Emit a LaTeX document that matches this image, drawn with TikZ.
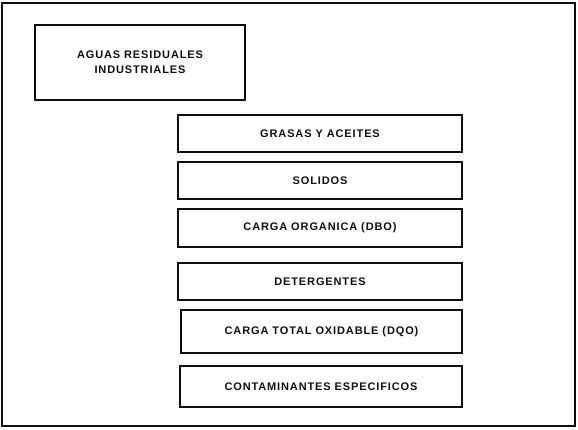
\documentclass[tikz,border=0pt]{standalone}
\usepackage{fontspec}
\setmainfont{Liberation Sans}[LetterSpace=8]
\usepackage{tikz}
\usetikzlibrary{positioning}
\definecolor{arq@ink}{RGB}{15,15,15}
\tikzset{
  arq/.style={
    x=1pt, y=-1pt,
    line width=1.2pt,
    every node/.style={font=\fontsize{11}{15}\selectfont\bfseries}
  },
  sourcebox/.style={              % origin of the wastewater
    draw=arq@ink, line width=1.2pt,
    inner sep=0pt,
    align=center,
    text=arq@ink,
    minimum width=210pt,
    minimum height=75pt
  },
  paramcard/.style={              % one pollutant parameter
    draw=arq@ink, line width=1.2pt,
    inner sep=0pt,
    align=center,
    text=arq@ink,
    minimum width=284pt,
    minimum height=37pt
  }
}
\begin{document}
\begin{tikzpicture}[arq]
% Page frame
\draw[draw=arq@ink, line width=2pt] (2,3) rectangle (575,426);
\useasboundingbox (0,0) rectangle (578,430);

% Source
\node[sourcebox] (aguas) at (140,62.5) {AGUAS RESIDUALES\\INDUSTRIALES};

% Parameters
\node[paramcard] (grasas)   at (320,133.5) {GRASAS Y ACEITES};
\node[paramcard] (solidos)  at (320,180.5) {SOLIDOS};
\node[paramcard, minimum height=38pt] (dbo) at (320,228) {CARGA ORGANICA (DBO)};
\node[paramcard] (deterg)   at (320,281.5) {DETERGENTES};
\node[paramcard, minimum width=281pt, minimum height=43pt] (dqo)
  at (321.5,331.5) {CARGA TOTAL OXIDABLE (DQO)};
\node[paramcard, minimum width=282pt, minimum height=41pt] (contam)
  at (321,386.5) {CONTAMINANTES ESPECIFICOS};

\end{tikzpicture}
\end{document}
